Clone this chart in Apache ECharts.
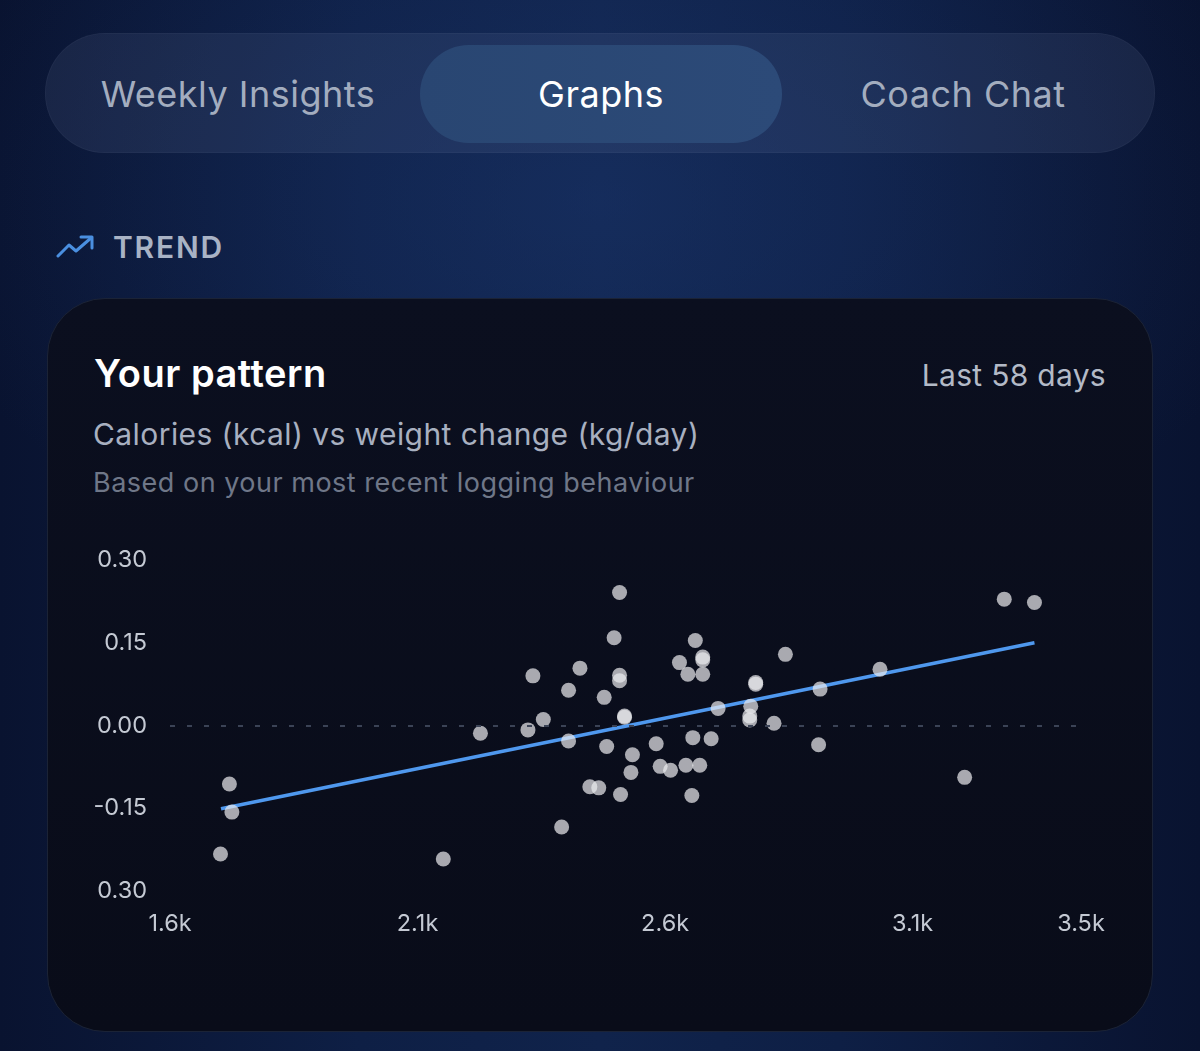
<!DOCTYPE html>
<html>
<head>
<meta charset="utf-8">
<script src="https://cdn.jsdelivr.net/npm/echarts@6/dist/echarts.min.js"></script>
<style>
  html, body { margin:0; padding:0; width:1200px; height:1051px; overflow:hidden; }
  body {
    font-family: Inter, "Noto Sans", sans-serif;
    background:
      radial-gradient(ellipse 700px 420px at 600px 200px, rgba(30,60,120,0.38), rgba(30,60,120,0) 100%),
      linear-gradient(90deg, #091330 0%, #0e1f45 30%, #10234b 50%, #0e1f45 70%, #091330 100%);
    position: relative;
  }
  .tabs {
    position:absolute; left:45px; top:33px; width:1110px; height:120px;
    border-radius:60px; background: rgba(120,140,180,0.13);
    border:1px solid rgba(255,255,255,0.03); box-sizing:border-box;
  }
  .tab { position:absolute; top:0; height:120px; line-height:120px; font-size:36px; color:#a3adbf; text-align:center; letter-spacing:0.5px; }
  .active {
    position:absolute; left:374px; top:11px; width:362px; height:98px; border-radius:49px;
    background: linear-gradient(90deg,#294672,#2c4a78);
  }
  .trend { position:absolute; left:56px; top:227px; height:40px; display:flex; align-items:center; }
  .trend span { font-size:30px; font-weight:600; color:#a9b3c5; letter-spacing:1.8px; margin-left:17px; }
  .card {
    position:absolute; left:47px; top:298px; width:1106px; height:734px; box-sizing:border-box;
    border-radius:58px; background: linear-gradient(180deg,#0b0f1f,#090c19);
    border:1.5px solid #1b2336;
  }
  .title { position:absolute; left:94px; top:350px; font-size:38px; font-weight:600; color:#ffffff; letter-spacing:0.5px; }
  .days { position:absolute; right:94px; top:357px; font-size:30px; color:#b3bac7; letter-spacing:0.3px; }
  .sub1 { position:absolute; left:93px; top:416px; font-size:30px; color:#a8b0c0; letter-spacing:0.42px; }
  .sub2 { position:absolute; left:93px; top:466px; font-size:27px; color:#6f7788; letter-spacing:0.5px; }
  #chart { position:absolute; left:0; top:0; width:1200px; height:1051px; }
</style>
</head>
<body>
<div class="tabs">
  <div class="active"></div>
  <div class="tab" style="left:0;width:384px;">Weekly Insights</div>
  <div class="tab" style="left:374px;width:362px;color:#ffffff;">Graphs</div>
  <div class="tab" style="left:736px;width:362px;">Coach Chat</div>
</div>
<div class="trend">
  <svg width="40" height="26" viewBox="0 0 40 26">
    <polyline points="2,22 13,11 20,17 35,4" fill="none" stroke="#4a8fe0" stroke-width="3" stroke-linecap="round" stroke-linejoin="round"/>
    <polyline points="25,3 36,3 36,14" fill="none" stroke="#4a8fe0" stroke-width="3" stroke-linecap="round" stroke-linejoin="round"/>
  </svg>
  <span>TREND</span>
</div>
<div class="card"></div>
<div class="title">Your pattern</div>
<div class="days">Last 58 days</div>
<div class="sub1">Calories (kcal) vs weight change (kg/day)</div>
<div class="sub2">Based on your most recent logging behaviour</div>
<div id="chart"></div>
<script>
// Daily calories (kcal)
const kcalValues = [1720, 1725, 1702, 2152, 2227, 2508, 2497, 2333, 2428, 2508, 2508, 2405, 2477, 2354, 2518, 2518,
  2323, 2405, 2482, 2534, 2531, 2582, 2590, 2448, 2466, 2510, 2391, 2661, 2629, 2676, 2676, 2646, 2676, 2843,
  2783, 2783, 2913, 2707, 2773, 2771, 2771, 2820, 2656, 2693, 2910, 2611, 2642, 2670, 2654, 3285, 3346, 3034, 3205];
// Weight change (kg/day)
const weightChange = [-0.106, -0.157, -0.233, -0.242, -0.014, 0.241, 0.159, 0.090, 0.104, 0.091, 0.081, 0.064, 0.051, 0.011, 0.015, 0.017,
  -0.008, -0.028, -0.038, -0.053, -0.085, -0.033, -0.074, -0.111, -0.113, -0.125, -0.184, 0.154, 0.114, 0.124, 0.119, 0.093, 0.093, 0.129,
  0.078, 0.075, 0.066, 0.031, 0.035, 0.017, 0.010, 0.004, -0.022, -0.024, -0.035, -0.081, -0.072, -0.072, -0.127, 0.229, 0.223, 0.102, -0.094];
// Trend line endpoints
const trendKcal = [1703, 3346];
const trendChange = [-0.151, 0.150];
// Tick values and labels
const xTickValues = [1600, 2100, 2600, 3100, 3440];
const xTickLabels = ['1.6k', '2.1k', '2.6k', '3.1k', '3.5k'];
const yTickValues = [0.30, 0.15, 0.00, -0.15, -0.30];
const yTickLabels = ['0.30', '0.15', '0.00', '-0.15', '0.30'];

const points = kcalValues.map((k, i) => [k, weightChange[i]]);
const trend = trendKcal.map((k, i) => [k, trendChange[i]]);

const chart = echarts.init(document.getElementById('chart'), null, { renderer: 'canvas' });
const labelStyle = { color: '#c4c9d3', fontSize: 23.5, fontFamily: 'Inter, "Noto Sans", sans-serif' };
chart.setOption({
  backgroundColor: 'transparent',
  animation: false,
  grid: { left: 170, top: 560, width: 911, height: 331, containLabel: false },
  xAxis: {
    type: 'value', min: 1600, max: 3440,
    axisLine: { show: false }, axisTick: { show: false }, splitLine: { show: false },
    axisLabel: Object.assign({}, labelStyle, {
      margin: 21,
      customValues: xTickValues,
      formatter: v => { const i = xTickValues.findIndex(t => Math.abs(t - v) < 1e-6); return i >= 0 ? xTickLabels[i] : ''; }
    })
  },
  yAxis: {
    type: 'value', min: -0.3, max: 0.3, interval: 0.15,
    axisLine: { show: false }, axisTick: { show: false }, splitLine: { show: false },
    axisLabel: Object.assign({}, labelStyle, {
      margin: 23,
      customValues: yTickValues,
      formatter: v => { const i = yTickValues.findIndex(t => Math.abs(t - v) < 1e-6); return i >= 0 ? yTickLabels[i] : ''; }
    })
  },
  series: [
    {
      type: 'line', data: trend, showSymbol: false, symbol: 'none', z: 2,
      lineStyle: { color: '#4f98ee', width: 3.5 },
      markLine: {
        silent: true, symbol: 'none', label: { show: false },
        lineStyle: { color: '#3b4356', type: [5, 12], width: 2 },
        data: [{ yAxis: 0 }]
      }
    },
    {
      type: 'scatter', data: points, symbolSize: 15, z: 3,
      itemStyle: { color: 'rgba(236,236,240,0.88)' }
    }
  ]
});
</script>
</body>
</html>
